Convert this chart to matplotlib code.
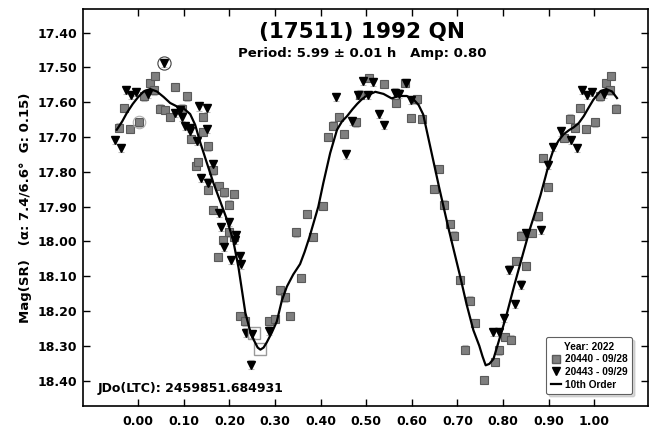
"""lightcurve plot (17511) 1992 QN"""
import numpy as np
import matplotlib
matplotlib.use("Agg")
import matplotlib.pyplot as plt
from matplotlib.lines import Line2D

# 20440 - 09/28 (phase 0..1)
sq_phase = [0.001, 0.013, 0.025, 0.035, 0.036, 0.047, 0.058, 0.069, 0.081, 0.097,
            0.107, 0.116, 0.127, 0.131, 0.142, 0.142, 0.154, 0.153, 0.165, 0.164,
            0.178, 0.189, 0.200, 0.211, 0.176, 0.187, 0.200, 0.211, 0.223, 0.234,
            0.287, 0.301, 0.311, 0.322, 0.334, 0.346, 0.358, 0.370, 0.383, 0.405,
            0.417, 0.428, 0.441, 0.452, 0.477, 0.487, 0.506, 0.540, 0.566, 0.586,
            0.599, 0.611, 0.623, 0.648, 0.659, 0.671, 0.683, 0.693, 0.706, 0.717,
            0.728, 0.739, 0.759, 0.783, 0.792, 0.805, 0.817, 0.829, 0.840, 0.851,
            0.864, 0.876, 0.887, 0.899, 0.934, 0.946, 0.958, 0.969, 0.982]
sq_mag = [17.658, 17.583, 17.545, 17.566, 17.524, 17.618, 17.623, 17.643, 17.557, 17.618,
          17.583, 17.705, 17.783, 17.772, 17.643, 17.685, 17.727, 17.851, 17.796, 17.909,
          17.840, 17.859, 17.894, 17.864, 18.045, 17.995, 17.974, 17.986, 18.215, 18.230,
          18.228, 18.223, 18.141, 18.161, 18.215, 17.974, 18.106, 17.922, 17.987, 17.899,
          17.699, 17.667, 17.643, 17.691, 17.658, 17.578, 17.531, 17.547, 17.602, 17.544,
          17.645, 17.592, 17.648, 17.849, 17.792, 17.894, 17.949, 17.983, 18.110, 18.311,
          18.170, 18.234, 18.399, 18.347, 18.313, 18.274, 18.282, 18.057, 17.983, 18.070,
          17.976, 17.928, 17.760, 17.843, 17.702, 17.647, 17.673, 17.616, 17.676]

# 20443 - 09/29
tri_phase = [0.021, 0.056, 0.081, 0.092, 0.096, 0.103, 0.113, 0.114, 0.129, 0.134,
             0.152, 0.151, 0.165, 0.138, 0.154, 0.178, 0.181, 0.200, 0.215, 0.213,
             0.189, 0.204, 0.224, 0.226, 0.237, 0.249, 0.247, 0.286, 0.434, 0.456,
             0.469, 0.481, 0.492, 0.503, 0.515, 0.527, 0.538, 0.564, 0.573, 0.588,
             0.599, 0.778, 0.792, 0.803, 0.814, 0.827, 0.839, 0.851, 0.884, 0.898,
             0.909, 0.927, 0.950, 0.962, 0.973, 0.985, 0.996]
tri_mag = [17.575, 17.487, 17.630, 17.621, 17.642, 17.669, 17.674, 17.684, 17.712, 17.612,
           17.616, 17.677, 17.777, 17.817, 17.831, 17.918, 17.958, 17.945, 17.982, 17.995,
           18.016, 18.053, 18.041, 18.066, 18.262, 18.266, 18.354, 18.256, 17.584, 17.750,
           17.654, 17.579, 17.539, 17.580, 17.541, 17.634, 17.665, 17.572, 17.575, 17.544,
           17.593, 18.261, 18.261, 18.220, 18.081, 18.179, 18.124, 17.975, 17.967, 17.779,
           17.729, 17.684, 17.709, 17.732, 17.565, 17.580, 17.571]

# excluded points (hollow squares)
excl_phase = [0.255, 0.267]
excl_mag = [18.263, 18.309]

# 10th order fit
fit_phase = [-0.047, -0.035, -0.025, -0.012, 0.000, 0.012, 0.026, 0.041, 0.056, 0.070,
             0.085, 0.100, 0.114, 0.125, 0.136, 0.150, 0.165, 0.180, 0.194, 0.208,
             0.220, 0.235, 0.245, 0.253, 0.262, 0.268, 0.275, 0.282, 0.293, 0.304,
             0.315, 0.326, 0.340, 0.355, 0.365, 0.375, 0.385, 0.395, 0.406, 0.421,
             0.436, 0.447, 0.458, 0.470, 0.480, 0.490, 0.501, 0.520, 0.538, 0.556,
             0.571, 0.589, 0.604, 0.615, 0.625, 0.640, 0.660, 0.680, 0.706, 0.720,
             0.735, 0.748, 0.755, 0.762, 0.770, 0.779, 0.790, 0.808, 0.825, 0.845,
             0.860, 0.871, 0.882, 0.893, 0.902, 0.911, 0.922, 0.933, 0.945, 0.955,
             0.966, 0.977, 0.988, 0.998, 1.013, 1.026, 1.039, 1.050]
fit_mag = [17.679, 17.655, 17.631, 17.605, 17.585, 17.569, 17.562, 17.569, 17.585, 17.602,
           17.612, 17.618, 17.634, 17.665, 17.715, 17.772, 17.832, 17.885, 17.935, 17.995,
           18.075, 18.205, 18.255, 18.282, 18.305, 18.311, 18.305, 18.290, 18.262, 18.230,
           18.170, 18.130, 18.095, 18.065, 18.030, 17.990, 17.945, 17.900, 17.832, 17.746,
           17.679, 17.655, 17.640, 17.620, 17.605, 17.592, 17.581, 17.570, 17.576, 17.589,
           17.582, 17.582, 17.592, 17.608, 17.635, 17.725, 17.845, 17.960, 18.100, 18.180,
           18.255, 18.300, 18.330, 18.356, 18.352, 18.338, 18.290, 18.210, 18.125, 18.030,
           17.960, 17.915, 17.868, 17.815, 17.770, 17.735, 17.710, 17.692, 17.680, 17.672,
           17.660, 17.640, 17.615, 17.593, 17.569, 17.562, 17.569, 17.588]

mag_err = 0.012
x_ticks = [0.0, 0.1, 0.2, 0.3, 0.4, 0.5, 0.6, 0.7, 0.8, 0.9, 1.0]
y_ticks = [17.4, 17.5, 17.6, 17.7, 17.8, 17.9, 18.0, 18.1, 18.2, 18.3, 18.4]


def wrap(phase, mag):
    """repeat points near 0 and 1 on the other side"""
    p = np.asarray(phase)
    m = np.asarray(mag)
    lo = p < 0.05
    hi = p >= 0.95
    return (np.concatenate([p, p[lo] + 1.0, p[hi] - 1.0]),
            np.concatenate([m, m[lo], m[hi]]))


def main():
    """main"""
    plt.rcParams['font.family'] = ['DejaVu Sans']
    plt.rcParams['font.weight'] = 'bold'

    fig = plt.figure(figsize=(6.52, 4.29), dpi=100)
    ax = fig.add_axes([0.1273, 0.0536, 0.8666, 0.9254])

    sx, sy = wrap(sq_phase, sq_mag)
    tx, ty = wrap(tri_phase, tri_mag)

    ax.errorbar(sx, sy, yerr=mag_err, fmt='none', ecolor='#bdbdbd',
                elinewidth=0.8, capsize=2, capthick=0.8, zorder=2)
    ax.errorbar(tx, ty, yerr=mag_err, fmt='none', ecolor='#bdbdbd',
                elinewidth=0.8, capsize=2, capthick=0.8, zorder=2)

    ax.plot(sx, sy, ls='none', marker='s', ms=5.8, mfc='#7f7f7f',
            mec='#5a5a5a', mew=0.8, zorder=3)
    ax.plot(tx, ty, ls='none', marker='v', ms=5.6, mfc='black',
            mec='black', zorder=4)
    ax.plot(excl_phase, excl_mag, ls='none', marker='s', ms=8.5,
            mfc='none', mec='#9a9a9a', mew=1.0, zorder=4)

    # circled points
    ax.plot(sq_phase[0], sq_mag[0], ls='none', marker='o', ms=9,
            mfc='none', mec='#b0b0b0', mew=0.8, zorder=4)
    ax.plot(tri_phase[1], tri_mag[1], ls='none', marker='o', ms=9.5,
            mfc='none', mec='#404040', mew=0.8, zorder=4)

    ax.plot(fit_phase, fit_mag, color='black', lw=1.6, zorder=5)

    ax.set_xlim(-0.121, 1.118)
    ax.set_ylim(18.473, 17.332)
    ax.set_xticks(x_ticks)
    ax.set_yticks(y_ticks)
    ax.set_xticklabels([f"{v:.2f}" for v in x_ticks])
    ax.set_yticklabels([f"{v:.2f}" for v in y_ticks])
    ax.tick_params(direction='in', length=5, width=1, top=True, right=True,
                   labelsize=9)
    ax.tick_params(axis='x', pad=6.5)
    ax.tick_params(axis='y', pad=4)
    for lab in ax.get_xticklabels() + ax.get_yticklabels():
        lab.set_fontweight('bold')
    for sp in ax.spines.values():
        sp.set_linewidth(1.2)

    ax.set_ylabel("Mag(SR)   (\u03b1: 7.4/6.6\u00b0  G: 0.15)",
                  fontsize=9.5, fontweight='bold', labelpad=4)

    ax.text(0.494, 0.942, "(17511) 1992 QN", transform=ax.transAxes,
            ha='center', va='center', fontsize=15.5, fontweight='bold')
    ax.text(0.494, 0.889, "Period: 5.99 \u00b1 0.01 h   Amp: 0.80",
            transform=ax.transAxes, ha='center', va='center',
            fontsize=9.5, fontweight='bold')
    ax.text(0.026, 0.045, "JDo(LTC): 2459851.684931", transform=ax.transAxes,
            ha='left', va='center', fontsize=9, fontweight='bold')

    handles = [
        Line2D([], [], ls='none', marker='s', ms=5.5, mfc='#7f7f7f', mec='#5a5a5a'),
        Line2D([], [], ls='none', marker='v', ms=5.5, mfc='black', mec='black'),
        Line2D([], [], color='black', lw=1.6),
    ]
    leg = ax.legend(handles, ["20440 - 09/28", "20443 - 09/29", "10th Order"],
                    title="Year: 2022", loc='lower right',
                    bbox_to_anchor=(0.972, 0.03), frameon=True, fancybox=True,
                    shadow={'color': '0.7', 'ox': 2, 'oy': -2},
                    prop={'family': 'Liberation Sans', 'weight': 'bold', 'size': 7.3},
                    title_fontproperties={'family': 'Liberation Sans',
                                          'weight': 'bold', 'size': 7.3},
                    handlelength=1.0, handletextpad=0.4, labelspacing=0.25,
                    borderpad=0.45, borderaxespad=0.0)
    leg.get_frame().set_edgecolor('#606060')
    leg.get_frame().set_linewidth(0.8)
    leg.set_zorder(10)

    fig.savefig("out.png", dpi=100)
    plt.close('all')


if __name__ == "__main__":
    main()
